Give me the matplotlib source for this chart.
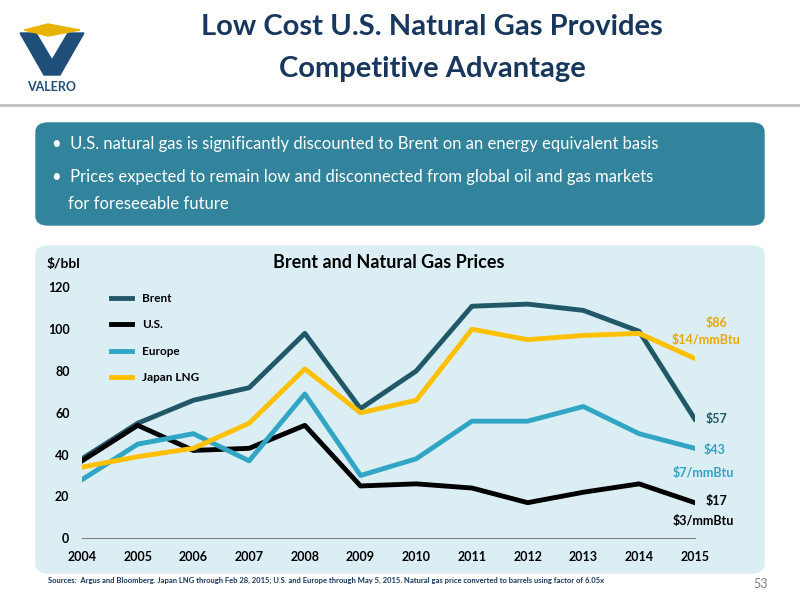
import matplotlib
matplotlib.use("Agg")
import matplotlib.pyplot as plt
from matplotlib.patches import FancyBboxPatch, Polygon

plt.rcParams['font.family'] = ['Lato', 'DejaVu Sans']

years = [2004, 2005, 2006, 2007, 2008, 2009, 2010, 2011, 2012, 2013, 2014, 2015]
brent = [38, 55, 66, 72, 98, 62, 80, 111, 112, 109, 99, 57]
us = [37, 54, 42, 43, 54, 25, 26, 24, 17, 22, 26, 17]
europe = [28, 45, 50, 37, 69, 30, 38, 56, 56, 63, 50, 43]
japan = [34, 39, 43, 55, 81, 60, 66, 100, 95, 97, 98, 86]

fig = plt.figure(figsize=(8, 6), dpi=100)

# header
fig.text(0.54, 0.955, "Low Cost U.S. Natural Gas Provides", ha='center', va='center',
         fontsize=21, fontweight='bold', color='#17375e')
fig.text(0.54, 0.885, "Competitive Advantage", ha='center', va='center',
         fontsize=21, fontweight='bold', color='#17375e')
# logo
fig.patches.append(Polygon([[0.025, 0.945], [0.045, 0.945], [0.065, 0.9], [0.085, 0.945],
                            [0.105, 0.945], [0.075, 0.875], [0.055, 0.875]],
                           closed=True, transform=fig.transFigure, color='#1f4e79'))
fig.patches.append(Polygon([[0.03, 0.95], [0.06, 0.96], [0.1, 0.95], [0.06, 0.94]],
                           closed=True, transform=fig.transFigure, color='#e8b400'))
fig.text(0.065, 0.855, "VALERO", ha='center', va='center', fontsize=9, fontweight='bold', color='#1f4e79')
fig.add_artist(plt.Line2D([0, 1], [0.825, 0.825], color='#bfbfbf', lw=2))

# bullet box
fig.patches.append(FancyBboxPatch((0.045, 0.625), 0.91, 0.17, boxstyle="round,pad=0,rounding_size=0.015",
                                  transform=fig.transFigure, color='#31849b', zorder=-2))
fig.text(0.065, 0.76, "•  U.S. natural gas is significantly discounted to Brent on an energy equivalent basis",
         fontsize=12, color='white', va='center')
fig.text(0.065, 0.705, "•  Prices expected to remain low and disconnected from global oil and gas markets",
         fontsize=12, color='white', va='center')
fig.text(0.085, 0.66, "for foreseeable future", fontsize=12, color='white', va='center')

# chart panel
fig.patches.append(FancyBboxPatch((0.045, 0.045), 0.91, 0.545, boxstyle="round,pad=0,rounding_size=0.015",
                                  transform=fig.transFigure, color='#dbeef4', zorder=-2))

ax = fig.add_axes([0.1025, 0.103, 0.766, 0.418])
ax.set_facecolor('#dbeef4')
ax.plot(years, brent, color='#215868', lw=3.5, label='Brent')
ax.plot(years, us, color='black', lw=3.5, label='U.S.')
ax.plot(years, europe, color='#31a5c4', lw=3.5, label='Europe')
ax.plot(years, japan, color='#ffc000', lw=3.5, label='Japan LNG')
ax.set_ylim(0, 120)
ax.set_xlim(2004, 2015)
ax.set_yticks(range(0, 121, 20))
ax.set_xticks(years)
ax.tick_params(labelsize=9, length=0, pad=9)
for t in ax.get_xticklabels() + ax.get_yticklabels():
    t.set_fontweight('bold')
for s in ['top', 'right', 'left']:
    ax.spines[s].set_visible(False)
ax.spines['bottom'].set_color('#808080')
leg = ax.legend(loc='upper left', bbox_to_anchor=(0.03, 1.02), frameon=False, fontsize=8.5,
                handlelength=1.8, labelspacing=1.3)
for t in leg.get_texts():
    t.set_fontweight('bold')
ax.set_title("Brent and Natural Gas Prices", fontsize=13, fontweight='bold', pad=14)
fig.text(0.058, 0.553, "$/bbl", fontsize=10, fontweight='bold')

ax.text(2015.2, 57, "$57", fontsize=9, fontweight='bold', color='#215868', va='center')
ax.text(2015.15, 42, "$43", fontsize=9, fontweight='bold', color='#31a5c4', va='center')
ax.text(2015.15, 31, "$7/mmBtu", fontsize=9, fontweight='bold', color='#31a5c4', va='center', ha='center')
ax.text(2015.2, 18, "$17", fontsize=9, fontweight='bold', color='black', va='center')
ax.text(2015.15, 8, "$3/mmBtu", fontsize=9, fontweight='bold', color='black', va='center', ha='center')
ax.text(2015.2, 103, "$86", fontsize=9, fontweight='bold', color='#e8a800', va='center')
ax.text(2015.2, 95, "$14/mmBtu", fontsize=9, fontweight='bold', color='#e8a800', va='center', ha='center')

fig.text(0.06, 0.028, "Sources:  Argus and Bloomberg. Japan LNG through Feb 28, 2015; U.S. and Europe through May 5, 2015. "
         "Natural gas price converted to barrels using factor of 6.05x", fontsize=5.5, fontweight='bold', color='#17375e')
fig.text(0.96, 0.02, "53", fontsize=9, color='#7f7f7f', ha='right')

fig.savefig("out.png", dpi=100)
